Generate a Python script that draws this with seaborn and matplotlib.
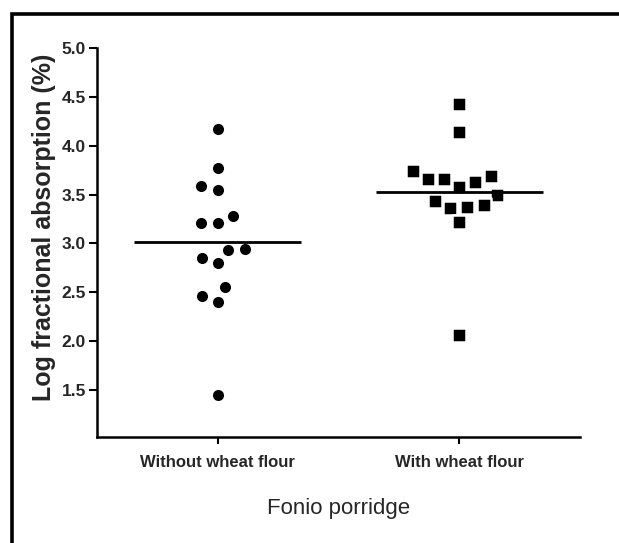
import matplotlib
matplotlib.use("Agg")
import matplotlib.pyplot as plt
import seaborn as sns
import pandas as pd
import numpy as np
from matplotlib.patches import Rectangle

categories = ["Without wheat flour", "With wheat flour"]
without_wheat = [4.17, 3.77, 3.59, 3.55, 3.28, 3.21, 3.21, 2.94, 2.93,
                 2.85, 2.80, 2.55, 2.46, 2.40, 1.45]
with_wheat = [4.43, 4.14, 3.74, 3.69, 3.66, 3.66, 3.63, 3.58, 3.50,
              3.44, 3.39, 3.37, 3.36, 3.22, 2.06]
yticks = [1.5, 2.0, 2.5, 3.0, 3.5, 4.0, 4.5, 5.0]

sns.set_theme(style="white")
plt.rcParams['font.family'] = ['Liberation Sans', 'DejaVu Sans']

df = pd.DataFrame({
    "group": [categories[0]] * len(without_wheat) + [categories[1]] * len(with_wheat),
    "value": without_wheat + with_wheat,
})

fig = plt.figure(figsize=(6.19, 5.43), dpi=100)
ax = fig.add_axes([97 / 619, 1 - 436.7 / 543, (580 - 97) / 619, (436.7 - 48.3) / 543])

markers = ["o", "s"]
for cat, mk in zip(categories, markers):
    sns.swarmplot(data=df[df["group"] == cat], x="group", y="value", order=categories,
                  marker=mk, color="black", size=9.8, linewidth=1.8,
                  edgecolor="white", ax=ax)

means = df.groupby("group")["value"].mean()
for i, cat in enumerate(categories):
    ax.hlines(means[cat], i - 0.345, i + 0.345, color="black", linewidth=2.0, zorder=5)

ax.set_xlim(-0.5, 1.5)
ax.set_ylim(1.02, 5.0)
ax.set_yticks(yticks)
ax.set_yticklabels([f"{t:.1f}" for t in yticks], fontsize=12.5, fontweight="bold")
ax.set_xticks(range(len(categories)))
ax.set_xticklabels(categories, fontsize=12, fontweight="bold")
ax.tick_params(axis="y", direction="out", length=6, width=1.5, pad=2, left=True, color="black")
ax.tick_params(axis="x", direction="out", length=5, width=1.5, pad=8, bottom=True, color="black")
ax.set_xlabel("Fonio porridge", fontsize=16, labelpad=20)
ax.set_ylabel("Log fractional absorption (%)", fontsize=18, fontweight="bold")
ax.yaxis.set_label_coords(-0.084, 0.54)
for side in ["top", "right"]:
    ax.spines[side].set_visible(False)
for side in ["left", "bottom"]:
    ax.spines[side].set_linewidth(1.8)
    ax.spines[side].set_color("black")

fig.patches.append(Rectangle((11.5 / 619, -0.1), 1.2, 1.1 - 13.5 / 543, transform=fig.transFigure,
                             fill=False, edgecolor="black", linewidth=2.6, figure=fig))

fig.savefig("out.png", dpi=100)
